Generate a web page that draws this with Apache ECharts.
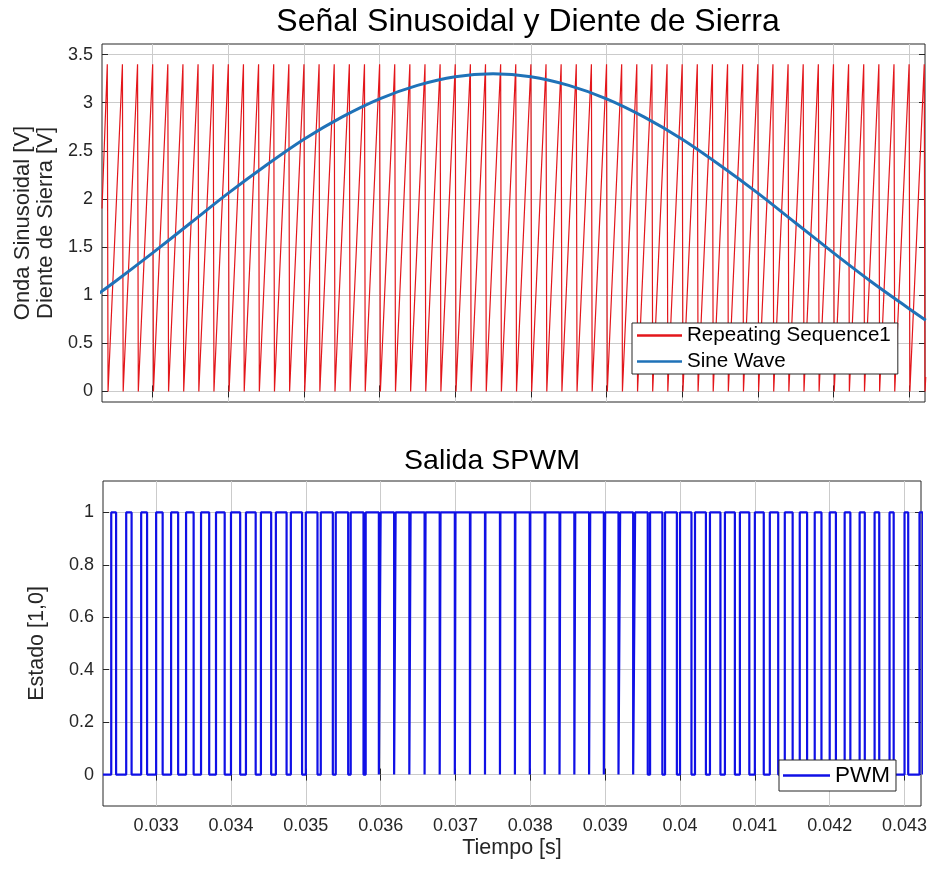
<!DOCTYPE html>
<html>
<head>
<meta charset="utf-8">
<title>Señal Sinusoidal y Diente de Sierra</title>
<script src="https://cdn.jsdelivr.net/npm/echarts@6/dist/echarts.min.js"></script>
<style>
  html, body { margin: 0; padding: 0; background: #fff; }
  #chart { width: 930px; height: 869px; }
</style>
</head>
<body>
<div id="chart"></div>
<script>
// instantes (s) en que el diente de sierra vuelve a 0 (y el PWM sube a 1)
const sawResetTimes = [
  0.0324, 0.0326, 0.0328, 0.033, 0.0332, 0.0334, 0.0336, 0.0338, 0.034, 0.0342,
  0.0344, 0.0346, 0.0348, 0.035, 0.0352, 0.0354, 0.0356, 0.0358, 0.036, 0.0362,
  0.0364, 0.0366, 0.0368, 0.037, 0.0372, 0.0374, 0.0376, 0.0378, 0.038, 0.0382,
  0.0384, 0.0386, 0.0388, 0.039, 0.0392, 0.0394, 0.0396, 0.0398, 0.04, 0.0402,
  0.0404, 0.0406, 0.0408, 0.041, 0.0412, 0.0414, 0.0416, 0.0418, 0.042, 0.0422,
  0.0424, 0.0426, 0.0428, 0.043, 0.0432
];
const sawPeak = 3.4;
const sawStartValue = 1.9;
const sawEndValue = 0.15;

// onda senoidal
const sineTimes = [0.03229, 0.0325, 0.033, 0.0335, 0.034, 0.0345, 0.035, 0.0355, 0.036, 0.0365,
  0.037, 0.0375, 0.038, 0.0385, 0.039, 0.0395, 0.04, 0.0405, 0.041, 0.0415, 0.042, 0.0425, 0.043, 0.04322];
const sineValues = [1.02, 1.14, 1.44, 1.75, 2.06, 2.35, 2.62, 2.85, 3.04, 3.18,
  3.27, 3.30, 3.27, 3.18, 3.04, 2.85, 2.62, 2.35, 2.06, 1.75, 1.44, 1.14, 0.86, 0.74];

// ancho de cada pulso en alto (us), uno por periodo
const pwmWidthUs = [
  65, 72, 79, 87, 94, 101, 109, 116, 123, 130,
  137, 143, 150, 156, 161, 166, 171, 176, 180, 183,
  187, 189, 191, 193, 194, 194, 194, 193, 192, 190,
  188, 185, 182, 178, 174, 169, 164, 158, 153, 146,
  140, 133, 126, 119, 112, 105, 98, 90, 83, 76,
  69, 62, 55, 49, 43
];

const timeTicks = [0.033, 0.034, 0.035, 0.036, 0.037, 0.038, 0.039, 0.04, 0.041, 0.042, 0.043];
const voltTicks = [0, 0.5, 1, 1.5, 2, 2.5, 3, 3.5];
const stateTicks = [0, 0.2, 0.4, 0.6, 0.8, 1];

const FONT = '"Liberation Sans", Arial, Helvetica, sans-serif';
const AXIS_COLOR = '#262626';
const GRID_COLOR = '#cbcbcb';

const topX = { min: 0.03233, max: 0.04321 };
const botX = { min: 0.03229, max: 0.04322 };

const sawData = [[topX.min, sawStartValue]];
sawResetTimes.forEach(t => {
  sawData.push([t, sawPeak], [t + 0.00001, 0]);
});
sawData.push([topX.max + 0.00001, sawEndValue]);

const sineData = sineTimes.map((t, i) => [t, sineValues[i]]);

const pwmData = [[botX.min, 0]];
sawResetTimes.forEach((t, i) => {
  const tf = t + pwmWidthUs[i] * 1e-6;
  pwmData.push([t, 0], [t, 1], [tf, 1], [tf, 0]);
});

function xAxisFor(gridIndex, range, position, withLabels) {
  return {
    type: 'value', gridIndex, position, min: range.min, max: range.max,
    axisLine: { show: false },
    axisTick: { show: true, inside: true, length: 6, customValues: timeTicks, lineStyle: { color: AXIS_COLOR } },
    axisLabel: {
      show: withLabels, customValues: timeTicks, margin: 11,
      formatter: v => String(+v.toFixed(3)),
      color: AXIS_COLOR, fontSize: 18, fontFamily: FONT
    },
    splitLine: { show: position === 'bottom', lineStyle: { color: GRID_COLOR, width: 1 } }
  };
}

function yAxisFor(gridIndex, min, max, ticks, position) {
  return {
    type: 'value', gridIndex, position, min, max,
    axisLine: { show: false },
    axisTick: { show: true, inside: true, length: 6, customValues: ticks, lineStyle: { color: AXIS_COLOR } },
    axisLabel: {
      show: position === 'left', customValues: ticks, margin: 9,
      formatter: v => String(v),
      color: AXIS_COLOR, fontSize: 18, fontFamily: FONT
    },
    splitLine: { show: position === 'left', lineStyle: { color: GRID_COLOR, width: 1 } }
  };
}

const xAxes = [
  xAxisFor(0, topX, 'bottom', false),
  xAxisFor(0, topX, 'top', false),
  Object.assign(xAxisFor(1, botX, 'bottom', true), {
    name: 'Tiempo [s]', nameLocation: 'middle', nameGap: 31,
    nameTextStyle: { color: AXIS_COLOR, fontSize: 21.5, fontFamily: FONT }
  }),
  xAxisFor(1, botX, 'top', false)
];

const yAxes = [
  Object.assign(yAxisFor(0, -0.11, 3.61, voltTicks, 'left'), {
    name: 'Onda Sinusoidal [V]\nDiente de Sierra [V]', nameLocation: 'middle', nameRotate: 90, nameGap: 45,
    nameTextStyle: { color: AXIS_COLOR, fontSize: 22, lineHeight: 23, fontFamily: FONT }
  }),
  yAxisFor(0, -0.11, 3.61, voltTicks, 'right'),
  Object.assign(yAxisFor(1, -0.12, 1.12, stateTicks, 'left'), {
    name: 'Estado [1,0]', nameLocation: 'middle', nameRotate: 90, nameGap: 55,
    nameTextStyle: { color: AXIS_COLOR, fontSize: 21.5, fontFamily: FONT }
  }),
  yAxisFor(1, -0.12, 1.12, stateTicks, 'right')
];

const option = {
  animation: false,
  backgroundColor: '#fff',
  title: [
    { text: 'Señal Sinusoidal y Diente de Sierra', left: 523, top: 1, textAlign: 'center',
      textStyle: { fontSize: 32, fontWeight: 'normal', color: '#000', fontFamily: FONT } },
    { text: 'Salida SPWM', left: 487, top: 442, textAlign: 'center',
      textStyle: { fontSize: 28.5, fontWeight: 'normal', color: '#000', fontFamily: FONT } }
  ],
  grid: [
    { left: 102, top: 44, width: 823, height: 358, show: true, borderColor: AXIS_COLOR, borderWidth: 1,
      backgroundColor: 'transparent', outerBoundsMode: 'none' },
    { left: 103, top: 481, width: 818, height: 325, show: true, borderColor: AXIS_COLOR, borderWidth: 1,
      backgroundColor: 'transparent', outerBoundsMode: 'none' }
  ],
  legend: [
    { data: [{ name: 'Repeating Sequence1' }, { name: 'Sine Wave' }], orient: 'vertical', left: 632, top: 323,
      icon: 'rect', padding: [2, 7, 2, 5], itemWidth: 45, itemHeight: 2.5, itemGap: 5,
      backgroundColor: '#fff', borderColor: AXIS_COLOR, borderWidth: 1, borderRadius: 0,
      textStyle: { fontSize: 20.6, color: '#000', fontFamily: FONT } },
    { data: ['PWM'], orient: 'vertical', left: 779, top: 760, icon: 'rect',
      padding: [4, 6, 4, 4], itemWidth: 47, itemHeight: 2.5, itemGap: 0,
      backgroundColor: '#fff', borderColor: AXIS_COLOR, borderWidth: 1, borderRadius: 0,
      textStyle: { fontSize: 22.5, color: '#000', fontFamily: FONT } }
  ],
  xAxis: xAxes,
  yAxis: yAxes,
  series: [
    { name: 'Repeating Sequence1', type: 'line', xAxisIndex: 0, yAxisIndex: 0, data: sawData,
      symbol: 'none', lineStyle: { color: '#e3161b', width: 1.2 }, itemStyle: { color: '#e3161b' } },
    { name: 'Sine Wave', type: 'line', xAxisIndex: 0, yAxisIndex: 0, data: sineData, smooth: 0.3,
      symbol: 'none', lineStyle: { color: '#1f72b8', width: 3 }, itemStyle: { color: '#1f72b8' } },
    { name: 'PWM', type: 'line', xAxisIndex: 2, yAxisIndex: 2, data: pwmData,
      symbol: 'none', lineStyle: { color: '#1010e6', width: 2.2 }, itemStyle: { color: '#1010e6' } }
  ]
};

const chart = echarts.init(document.getElementById('chart'));
chart.setOption(option);
window.addEventListener('resize', () => {
  chart.resize();
});
</script>
</body>
</html>
